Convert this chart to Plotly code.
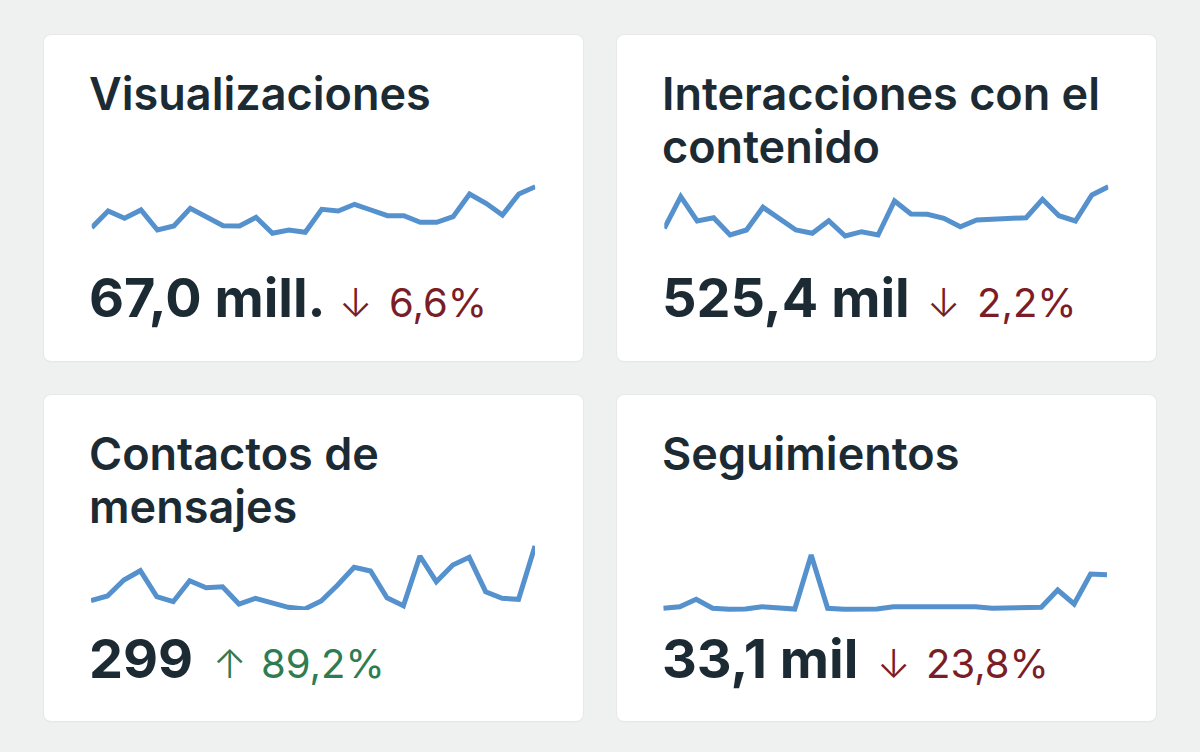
import plotly.graph_objects as go

W, H = 1200, 752

# ---------------- data ----------------
titles = [["Visualizaciones"], ["Interacciones con el", "contenido"],
          ["Contactos de", "mensajes"], ["Seguimientos"]]
totals = ["67,0 mill.", "525,4 mil", "299", "33,1 mil"]
arrows = ["↓", "↓", "↑", "↓"]
changes = ["6,6%", "2,2%", "89,2%", "23,8%"]
change_up = [False, False, True, False]

days = list(range(28))
visualizaciones = [17.3, 34, 26.7, 35, 15, 19, 36.7, 28.3, 19.3, 19, 27.7, 11.7, 15, 12.7,
                   35.7, 34, 40.7, 35, 29.3, 29.3, 22.7, 22.7, 28.3, 51, 41.7, 30, 51, 58.3]
interacciones = [16.7, 48.3, 24, 27.3, 10, 15, 37.7, 26.7, 15, 11.7, 24.3, 9, 13.3, 10,
                 44, 31, 30.7, 26.7, 18.3, 25, 25.7, 25.7, 27.3, 45.7, 29.3, 24, 50, 58.3]
contactos = [9.3, 14, 30, 39.3, 13.3, 8.3, 29.3, 22.3, 23.3, 6, 11.7, 6.7, 2.7, 1,
             9, 25, 42.7, 39, 12.3, 4.3, 54, 28.3, 45, 52.7, 18.3, 11.7, 10.7, 64]
seguimientos = [6.7, 8.3, 15.7, 6.7, 5.7, 6, 8.3, 6.7, 6, 60, 6.7, 5.7, 5.7, 6,
                8.3, 8.3, 8.3, 8, 7.3, 8.3, 6.7, 6.7, 7.3, 7.7, 25, 11, 41, 40.3]
series = [visualizaciones, interacciones, contactos, seguimientos]

# ---------------- layout helpers ----------------
def px(x):
    return x / W

def py(y):
    return 1 - y / H

def rounded_rect(x0, y0, x1, y1, r):
    rx, ry = r / W, r / H
    X0, X1 = px(x0), px(x1)
    Y0, Y1 = py(y0), py(y1)
    return (f"M {X0+rx},{Y0} L {X1-rx},{Y0} Q {X1},{Y0} {X1},{Y0-ry} "
            f"L {X1},{Y1+ry} Q {X1},{Y1} {X1-rx},{Y1} L {X0+rx},{Y1} "
            f"Q {X0},{Y1} {X0},{Y1+ry} L {X0},{Y0-ry} Q {X0},{Y0} {X0+rx},{Y0} Z")

cards = [(44, 35, 583, 361), (617, 35, 1156, 361), (44, 395, 583, 721), (617, 395, 1156, 721)]
spark_boxes = [(91.7, 535.3, 175, 245, 70), (664.3, 1108.3, 175, 245, 70),
               (91.0, 535.0, 535, 610, 75), (663.3, 1107.0, 540, 615, 75)]

DARK = "#1c2b33"
RED = "#7b1d27"
GREEN = "#2e7d52"
LINE = "#5591cd"
FONT = "Inter"

fig = go.Figure()
shapes = []
for (x0, y0, x1, y1) in cards:
    shapes.append(dict(type="path", xref="paper", yref="paper",
                       path=rounded_rect(x0 - 1, y0 - 1, x1 + 1, y1 + 1.5, 9),
                       fillcolor="rgba(0,0,0,0.03)", line=dict(width=0), layer="below"))
    shapes.append(dict(type="path", xref="paper", yref="paper",
                       path=rounded_rect(x0, y0, x1, y1, 8),
                       fillcolor="#ffffff", line=dict(width=0), layer="below"))

layout_axes = {}
for i, (vals, box) in enumerate(zip(series, spark_boxes)):
    n = "" if i == 0 else str(i + 1)
    fig.add_trace(go.Scatter(x=days, y=vals, mode="lines",
                             line=dict(color=LINE, width=5),
                             xaxis="x" + n, yaxis="y" + n,
                             hoverinfo="skip", showlegend=False))
    x0, x1, yt, yb, ymax = box
    layout_axes["xaxis" + n] = dict(domain=[px(x0), px(x1)], range=[0, 27],
                                    visible=False, fixedrange=True, anchor="y" + n)
    layout_axes["yaxis" + n] = dict(domain=[py(yb), py(yt)], range=[0, ymax],
                                    visible=False, fixedrange=True, anchor="x" + n)

annotations = []
title_x = [90, 663, 90, 663]
title_top = [64, 64, 424, 424]
LS = 53
for i in range(4):
    for j, line in enumerate(titles[i]):
        annotations.append(dict(text=line, x=px(title_x[i] - 3), y=py(title_top[i] + j * LS),
                                xref="paper", yref="paper", xanchor="left", yanchor="top",
                                showarrow=False,
                                font=dict(family=FONT, size=45, color=DARK, weight=600)))

val_top = [263, 263, 624, 624]
arr_x = [337, 925, 211, 875]
num_x = [387, 975, 259, 924]
chg_top = [276, 276, 637, 637]
for i in range(4):
    annotations.append(dict(text=totals[i], x=px(title_x[i] - 3), y=py(val_top[i]),
                            xref="paper", yref="paper", xanchor="left", yanchor="top",
                            showarrow=False,
                            font=dict(family=FONT, size=54, color=DARK, weight=700)))
    col = GREEN if change_up[i] else RED
    annotations.append(dict(text=arrows[i], x=px(arr_x[i]), y=py(chg_top[i]),
                            xref="paper", yref="paper", xanchor="left", yanchor="top",
                            showarrow=False,
                            font=dict(family=FONT, size=40, color=col, weight=300)))
    annotations.append(dict(text=changes[i], x=px(num_x[i]), y=py(chg_top[i]),
                            xref="paper", yref="paper", xanchor="left", yanchor="top",
                            showarrow=False,
                            font=dict(family=FONT, size=40, color=col, weight=400)))

fig.update_layout(width=W, height=H, margin=dict(l=0, r=0, t=0, b=0, pad=0),
                  paper_bgcolor="#eff1f0", plot_bgcolor="rgba(0,0,0,0)",
                  shapes=shapes, annotations=annotations, **layout_axes)

fig.write_html("out.html", config={"displayModeBar": False})
